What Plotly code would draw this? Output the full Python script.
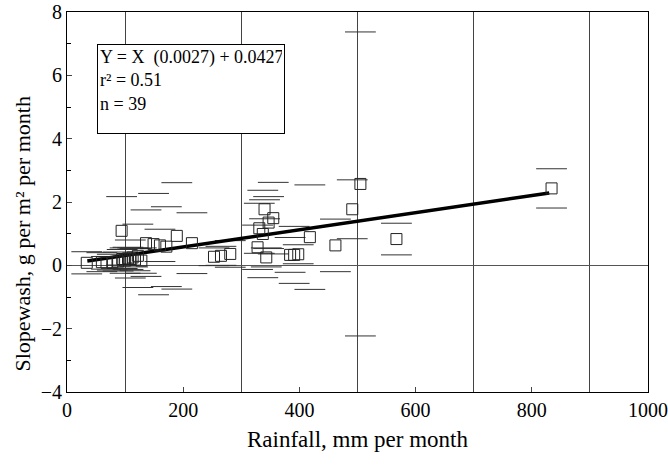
import plotly.graph_objects as go

# Data
rainfall = [34, 60, 68, 78, 88, 95, 100, 105, 109, 113, 117, 122, 128,
            94, 136, 149, 160, 171, 189, 215, 253, 265, 281,
            328, 331, 337, 340, 343, 347, 355, 384, 391, 398,
            418, 462, 491, 505, 567, 834]
slopewash = [0.08, 0.1, 0.08, 0.1, 0.12, 0.2, 0.15, 0.22, 0.2, 0.25, 0.18, 0.3, 0.15,
             1.09, 0.70, 0.67, 0.63, 0.59, 0.93, 0.70, 0.27, 0.30, 0.36,
             0.57, 1.17, 0.99, 1.77, 0.25, 1.35, 1.49, 0.33, 0.33, 0.35,
             0.89, 0.63, 1.77, 2.57, 0.83, 2.43]
error = [0.35, 0.3, 0.2, 0.25, 0.3, 0.3, 0.4, 0.35, 0.6, 0.3, 0.35, 1.0, 0.4,
         1.08, 1.05, 1.6, 0.51, 1.26, 1.68, 0.96, 0.28, 0.3, 0.42,
         0.7, 0.79, 1.38, 0.3, 0.3, 0.82, 1.13, 0.55, 0.9, 0.3,
         1.65, 0.83, 0.93, 4.8, 0.5, 0.62]

slope = 0.0027
intercept = 0.0427
fit_range = [35, 830]

x_ticks = [0, 200, 400, 600, 800, 1000]
y_ticks = [-4, -2, 0, 2, 4, 6, 8]

FONT = "Liberation Serif"

fig = go.Figure()

upper = [y + e for y, e in zip(slopewash, error)]
lower = [y - e for y, e in zip(slopewash, error)]

fig.add_trace(go.Scatter(
    x=rainfall + rainfall, y=upper + lower, mode="markers",
    marker=dict(symbol="line-ew-open", size=22, color="#333",
                line=dict(color="#333", width=1)),
    showlegend=False, hoverinfo="skip"))

fig.add_trace(go.Scatter(
    x=fit_range, y=[slope * v + intercept for v in fit_range], mode="lines",
    line=dict(color="black", width=3.5), showlegend=False))

fig.add_trace(go.Scatter(
    x=rainfall, y=slopewash, mode="markers",
    marker=dict(symbol="square-open", size=11, color="#222", line=dict(width=1)),
    showlegend=False))

fig.add_annotation(
    xref="paper", yref="paper", x=0.052, y=0.916, xanchor="left", yanchor="top",
    text="Y = X  (0.0027) + 0.0427<br>r² = 0.51<br>n = 39",
    align="left", valign="top", showarrow=False,
    font=dict(family=FONT, size=18, color="black"),
    bordercolor="black", borderwidth=1, borderpad=2, bgcolor="white",
    width=182, height=84)

# y-axis title as rotated annotation
fig.add_annotation(
    xref="paper", yref="paper", x=-0.077, y=0.415, xanchor="center", yanchor="middle",
    text="Slopewash, g per m² per month", textangle=-90, showarrow=False,
    font=dict(family=FONT, size=22, color="black"))

fig.update_layout(
    width=668, height=465,
    margin=dict(l=67, r=20, t=12, b=73),
    paper_bgcolor="white", plot_bgcolor="white",
    font=dict(family=FONT, size=20, color="black"),
    xaxis=dict(
        range=[0, 1000], tickvals=x_ticks, ticks="inside", ticklen=5,
        showgrid=False, zeroline=False, automargin=False,
        showline=True, linecolor="black", linewidth=1, mirror=True,
        minor=dict(tick0=100, dtick=200, showgrid=True, gridcolor="#444", gridwidth=1, ticks=""),
        title=dict(text="Rainfall, mm per month", font=dict(size=23), standoff=10),
        tickfont=dict(size=20),
    ),
    yaxis=dict(
        range=[-4, 8], tickvals=y_ticks, ticks="inside", ticklen=5,
        showgrid=False, zeroline=True, zerolinecolor="#555", zerolinewidth=1,
        showline=True, linecolor="black", linewidth=1, mirror=True, automargin=False,
        minor=dict(dtick=1, ticks="inside", ticklen=4, tickcolor="black"),
        tickfont=dict(size=20),
    ),
)

fig.write_html("out.html")
